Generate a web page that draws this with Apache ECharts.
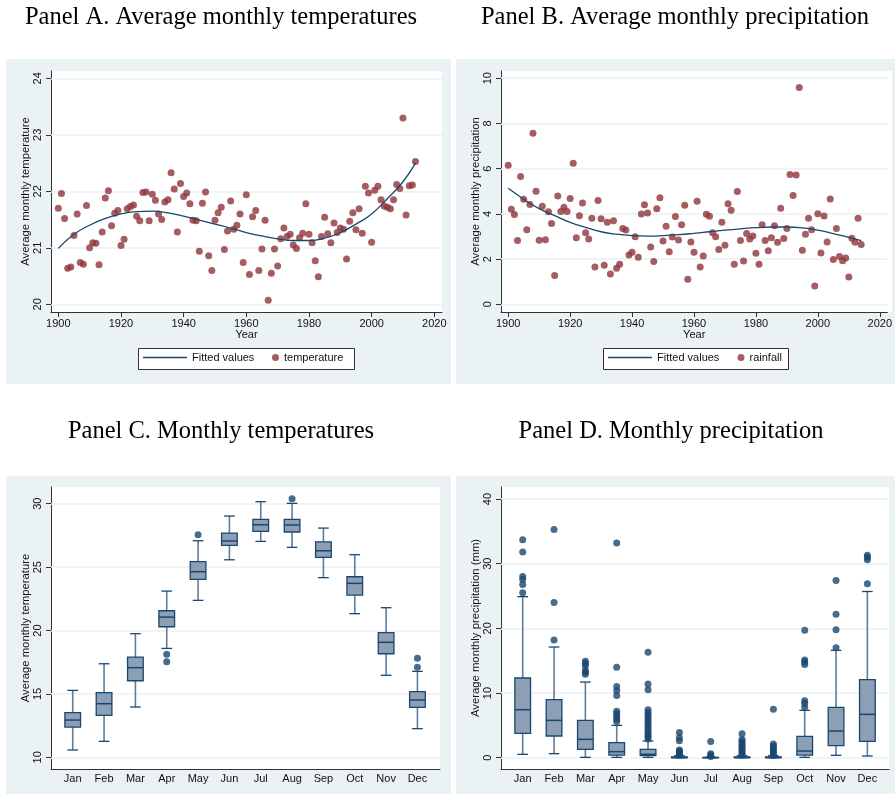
<!DOCTYPE html>
<html><head><meta charset="utf-8">
<script src="https://cdn.jsdelivr.net/npm/echarts@6/dist/echarts.min.js"></script>
<style>html,body{margin:0;padding:0;background:#fff}#c{width:895px;height:794px}</style>
</head><body><div id="c"></div><script>
// ---------------- data ----------------
const firstYear = 1900;
const temperature = [21.70,21.96,21.52,20.64,20.66,21.22,21.60,20.74,20.71,21.75,21.00,21.09,21.08,20.70,21.28,21.88,22.01,21.39,21.61,21.66,
21.04,21.15,21.69,21.73,21.76,21.56,21.48,21.98,21.99,21.48,21.95,21.84,21.60,21.50,21.81,21.85,22.33,22.04,21.28,22.14,
21.91,21.97,21.78,21.49,21.48,20.94,21.79,21.99,20.86,20.60,21.49,21.62,21.72,20.97,21.30,21.83,21.33,21.40,21.60,20.74,
21.94,20.53,21.55,21.66,20.60,20.98,21.49,20.07,20.55,20.98,20.68,21.16,21.35,21.20,21.24,21.05,20.99,21.18,21.26,21.78,
21.24,21.09,20.77,20.49,21.20,21.54,21.25,21.09,21.44,21.27,21.35,21.33,20.80,21.47,21.62,21.32,21.69,21.26,22.09,21.97,
21.10,22.02,22.09,21.85,21.74,21.72,21.69,21.85,22.12,22.05,23.30,21.58,22.10,22.11,22.53];
const rainfall = [6.15,4.20,3.97,2.82,5.65,4.65,3.30,4.41,7.57,5.00,2.83,4.34,2.86,4.09,3.58,1.27,4.79,4.10,4.29,4.11,
4.68,6.24,2.94,3.92,4.48,3.17,2.89,3.81,1.65,4.59,3.78,1.73,3.63,1.34,3.70,1.59,1.77,3.35,3.29,2.18,
2.30,2.99,2.08,4.00,4.40,4.04,2.54,1.89,4.23,4.71,2.80,3.45,2.33,2.98,3.88,2.85,3.52,4.38,1.11,2.76,
2.30,4.56,1.65,2.14,3.98,3.89,3.17,2.99,2.42,3.63,2.61,4.45,4.16,1.77,4.99,2.82,1.92,3.13,2.89,3.02,
2.26,1.77,3.52,2.82,2.37,2.94,3.47,2.74,4.25,2.91,3.35,5.74,4.81,5.72,9.59,2.39,3.10,3.81,3.30,0.81,
4.01,2.27,3.91,2.76,4.66,1.98,3.35,2.11,1.93,2.05,1.21,2.92,2.74,3.81,2.65];
const years = temperature.map((_, i) => firstYear + i);

const fitYears = [1900,1905,1910,1915,1920,1925,1930,1935,1940,1945,1950,1955,1960,1965,1970,1975,1980,1985,1990,1995,2000,2005,2010,2014];
const fitTemperature = [20.99,21.24,21.40,21.52,21.60,21.64,21.65,21.62,21.56,21.49,21.42,21.35,21.27,21.21,21.16,21.13,21.13,21.17,21.27,21.42,21.60,21.87,22.17,22.50];
const fitRainfall = [5.13,4.65,4.23,3.92,3.62,3.40,3.21,3.10,3.04,3.02,3.04,3.08,3.14,3.21,3.28,3.34,3.39,3.42,3.42,3.38,3.28,3.13,2.96,2.82];

const months = ['Jan','Feb','Mar','Apr','May','Jun','Jul','Aug','Sep','Oct','Nov','Dec'];
// [lower whisker, Q1, median, Q3, upper whisker]
const tempBox = [
 [10.58,12.39,12.94,13.52,15.28],[11.26,13.31,14.23,15.10,17.38],[13.97,16.04,17.07,17.91,19.75],
 [18.59,20.30,21.06,21.56,23.11],[22.38,24.03,24.64,25.43,27.08],[25.58,26.72,27.06,27.69,29.03],
 [27.03,27.82,28.34,28.76,30.16],[26.56,27.77,28.32,28.76,30.03],[24.17,25.77,26.29,27.00,28.08],
 [21.33,22.80,23.72,24.24,25.98],[16.47,18.17,19.07,19.83,21.80],[12.26,13.94,14.52,15.18,16.78]];
const tempOutliers = [[],[],[],[18.12,17.54],[27.56],[],[],[30.39],[],[],[],[17.81,17.10]];
const rainBox = [
 [0.52,3.76,7.42,12.32,24.9],[0.62,3.35,5.77,8.97,17.11],[0.05,1.29,2.84,5.77,11.70],
 [0.05,0.41,0.93,2.32,5.0],[0.05,0.31,0.52,1.29,2.58],[0,0,0.03,0.12,0.3],
 [0,0,0,0.04,0.1],[0,0,0.03,0.12,0.3],[0,0,0.03,0.12,0.3],
 [0.05,0.41,1.03,3.3,7.32],[0.36,1.86,4.12,7.78,16.6],[0.26,2.53,6.70,12.06,25.7]];
const rainOutliers = [
 [25.5,26.8,27.6,28.0,31.8,33.7],
 [18.2,24.0,35.3],
 [12.9,13.2,13.5,14.2,14.6,14.9],
 [5.6,6.0,6.4,6.8,7.2,9.6,10.4,11.0,14.0,33.2],
 [2.9,3.2,3.5,3.8,4.2,4.6,5.0,5.4,5.8,6.2,6.6,7.0,7.4,10.5,11.4,16.3],
 [0.4,0.6,0.8,1.0,1.2,2.6,3.1,3.9],
 [0.2,0.4,0.6,2.5],
 [0.4,0.7,1.0,1.3,1.6,1.9,2.2,2.5,2.8,3.7],
 [0.35,0.6,0.9,1.2,1.5,1.8,2.1,7.5],
 [7.8,8.4,8.8,14.4,14.8,15.1,19.7],
 [17.0,19.8,22.2,27.4],
 [26.9,30.6,31.0,31.3]];

const yearTicks = [1900,1920,1940,1960,1980,2000,2020];
const tempTicks = [20,21,22,23,24];
const rainTicks = [0,2,4,6,8,10];
const monthTicks = [1,2,3,4,5,6,7,8,9,10,11,12];
const monthTempTicks = [10,15,20,25,30];
const monthRainTicks = [0,10,20,30,40];

// ---------------- style ----------------
const NAVY = '#1a476f', MAROON = '#90353b', PANEL = '#eaf2f3', GRIDC = '#eaf2f3';
const BOXFILL = '#8c9fb5', WHISK = '#5f7d9c', AXC = '#333', TXT = '#111';
const SANS = '"Liberation Sans", Arial, sans-serif', SERIF = '"Liberation Serif", "Times New Roman", serif';

const pairs = (xs, ys) => xs.map((x, i) => [x, ys[i]]);
const boxRows = b => b.map((r, i) => [monthTicks[i]].concat(r));
const outRows = o => { const out = []; o.forEach((arr, i) => arr.forEach(v => out.push([monthTicks[i], v]))); return out; };

function xAx(gi, min, max, ticks, name, fmt, showTick) {
  return {type:'value', gridIndex:gi, min, max, name, nameLocation:'middle', nameGap:17,
    nameTextStyle:{fontSize:11, color:TXT, fontFamily:SANS},
    axisLine:{show:true, onZero:false, lineStyle:{color:AXC, width:1}},
    axisTick:{show:showTick, length:5, customValues:ticks, lineStyle:{color:AXC}},
    axisLabel:{customValues:ticks, margin:showTick ? 6 : 4, fontSize:11, color:TXT, fontFamily:SANS, formatter:fmt},
    splitLine:{show:false}};
}
function yAx(gi, min, max, ticks, name) {
  return {type:'value', gridIndex:gi, min, max, name, nameLocation:'middle', nameGap:20,
    nameTextStyle:{fontSize:11.3, color:TXT, fontFamily:SANS},
    axisLine:{show:true, onZero:false, lineStyle:{color:AXC, width:1}},
    axisTick:{show:true, length:5, customValues:ticks, lineStyle:{color:AXC}},
    axisLabel:{customValues:ticks, rotate:90, margin:8, fontSize:11, color:TXT, fontFamily:SANS, formatter:v => String(v)},
    splitLine:{show:false}};
}
function gridLines(ticks) {
  return {silent:true, symbol:['none','none'], z:1, label:{show:false},
    lineStyle:{color:GRIDC, type:'solid', width:1.5}, data: ticks.map(t => ({yAxis:t}))};
}
function boxRender(params, api) {
  const m = api.value(0);
  const pLow = api.coord([m, api.value(1)]);
  const pQ1 = api.coord([m, api.value(2)]);
  const pMed = api.coord([m, api.value(3)]);
  const pQ3 = api.coord([m, api.value(4)]);
  const pHigh = api.coord([m, api.value(5)]);
  const bw = api.size([0.5, 0])[0];
  const cw = api.size([0.34, 0])[0];
  const cx = pLow[0];
  return {type:'group', children:[
    {type:'line', shape:{x1:cx, y1:pHigh[1], x2:cx, y2:pQ3[1]}, style:{stroke:WHISK, lineWidth:1.6}},
    {type:'line', shape:{x1:cx, y1:pQ1[1], x2:cx, y2:pLow[1]}, style:{stroke:WHISK, lineWidth:1.6}},
    {type:'line', shape:{x1:cx - cw/2, y1:pHigh[1], x2:cx + cw/2, y2:pHigh[1]}, style:{stroke:NAVY, lineWidth:1.3}},
    {type:'line', shape:{x1:cx - cw/2, y1:pLow[1], x2:cx + cw/2, y2:pLow[1]}, style:{stroke:NAVY, lineWidth:1.3}},
    {type:'rect', shape:{x:cx - bw/2, y:pQ3[1], width:bw, height:pQ1[1] - pQ3[1]}, style:{fill:BOXFILL, stroke:NAVY, lineWidth:1.3}},
    {type:'line', shape:{x1:cx - bw/2, y1:pMed[1], x2:cx + bw/2, y2:pMed[1]}, style:{stroke:NAVY, lineWidth:1.5}}
  ]};
}

const yearFmt = v => String(v);
const monthFmt = v => months[v - 1];

const panels = [[6,59,445,325],[456,59,439,325],[6,476,445,318],[456,476,439,318]];
const plots = [[51,71,391,241],[501,71,391,241],[51,487,389,282],[501,487,388,282]];
const graphic = [];
panels.forEach(p => graphic.push({type:'rect', silent:true, z:-5, shape:{x:p[0], y:p[1], width:p[2], height:p[3]}, style:{fill:PANEL}}));
plots.forEach(p => graphic.push({type:'rect', silent:true, z:-4, shape:{x:p[0], y:p[1], width:p[2], height:p[3]}, style:{fill:'#fff'}}));
graphic.push({type:'rect', silent:true, z:3, shape:{x:138.5, y:348.5, width:216, height:21}, style:{fill:'#fff', stroke:'#333', lineWidth:1}});
graphic.push({type:'rect', silent:true, z:3, shape:{x:603.5, y:348.5, width:185, height:21}, style:{fill:'#fff', stroke:'#333', lineWidth:1}});
const titles = [['Panel A. Average monthly temperatures',221,18],['Panel B. Average monthly precipitation',675,18],
  ['Panel C. Monthly temperatures',221,432],['Panel D. Monthly precipitation',671,432]];
titles.forEach(t => graphic.push({type:'text', z:5, x:t[1], y:t[2], style:{text:t[0], textAlign:'center', textVerticalAlign:'middle', font:'24.5px ' + SERIF, fill:'#000'}}));

const legTxt = {fontSize:11, color:TXT, fontFamily:SANS};
const option = {
  animation:false,
  backgroundColor:'#fff',
  graphic,
  grid: plots.map(p => ({left:p[0], top:p[1], width:p[2], height:p[3], containLabel:false})),
  xAxis:[
    xAx(0, 1897.67, 2022.46, yearTicks, 'Year', yearFmt, true),
    xAx(1, 1897.67, 2022.46, yearTicks, 'Year', yearFmt, true),
    xAx(2, 0.307, 12.72, monthTicks, '', monthFmt, false),
    xAx(3, 0.307, 12.69, monthTicks, '', monthFmt, false)
  ],
  yAxis:[
    yAx(0, 19.864, 24.13, tempTicks, 'Average monthly temperature'),
    yAx(1, -0.34, 10.32, rainTicks, 'Average monthly precipitation'),
    yAx(2, 9.08, 31.32, monthTempTicks, 'Average monthly temperature'),
    yAx(3, -1.75, 41.86, monthRainTicks, 'Average monthly precipitation (mm)')
  ],
  legend:[
    {data:[{name:'Fitted values', icon:'rect'}], left:143, top:352, itemWidth:44, itemHeight:1.5, padding:0, selectedMode:false, textStyle:legTxt},
    {data:[{name:'temperature', icon:'circle'}], left:272, top:352, itemWidth:7, itemHeight:7, padding:0, selectedMode:false, textStyle:legTxt},
    {data:[{name:'Fitted values', icon:'rect'}], left:608, top:352, itemWidth:44, itemHeight:1.5, padding:0, selectedMode:false, textStyle:legTxt},
    {data:[{name:'rainfall', icon:'circle'}], left:737.5, top:352, itemWidth:7, itemHeight:7, padding:0, selectedMode:false, textStyle:legTxt}
  ],
  series:[
    {name:'temperature', type:'scatter', xAxisIndex:0, yAxisIndex:0, data:pairs(years, temperature), symbolSize:7, itemStyle:{color:MAROON}, z:2,
      markLine:gridLines(tempTicks)},
    {name:'Fitted values', type:'line', xAxisIndex:0, yAxisIndex:0, data:pairs(fitYears, fitTemperature), smooth:true, showSymbol:false,
      lineStyle:{color:NAVY, width:1.3}, itemStyle:{color:NAVY}, z:3},
    {name:'rainfall', type:'scatter', xAxisIndex:1, yAxisIndex:1, data:pairs(years, rainfall), symbolSize:7, itemStyle:{color:MAROON}, z:2,
      markLine:gridLines(rainTicks)},
    {name:'Fitted values', type:'line', xAxisIndex:1, yAxisIndex:1, data:pairs(fitYears, fitRainfall), smooth:true, showSymbol:false,
      lineStyle:{color:NAVY, width:1.3}, itemStyle:{color:NAVY}, z:3},
    {name:'tempBox', type:'custom', xAxisIndex:2, yAxisIndex:2, data:boxRows(tempBox), renderItem:boxRender, encode:{x:0, y:[1,2,3,4,5]}, z:2},
    {name:'tempOut', type:'scatter', xAxisIndex:2, yAxisIndex:2, data:outRows(tempOutliers), symbolSize:7, itemStyle:{color:NAVY}, z:3,
      markLine:gridLines(monthTempTicks)},
    {name:'rainBox', type:'custom', xAxisIndex:3, yAxisIndex:3, data:boxRows(rainBox), renderItem:boxRender, encode:{x:0, y:[1,2,3,4,5]}, z:2},
    {name:'rainOut', type:'scatter', xAxisIndex:3, yAxisIndex:3, data:outRows(rainOutliers), symbolSize:7, itemStyle:{color:NAVY}, z:3,
      markLine:gridLines(monthRainTicks)}
  ]
};
const chart = echarts.init(document.getElementById('c'), null, {renderer:'canvas'});
chart.setOption(option);
</script></body></html>
